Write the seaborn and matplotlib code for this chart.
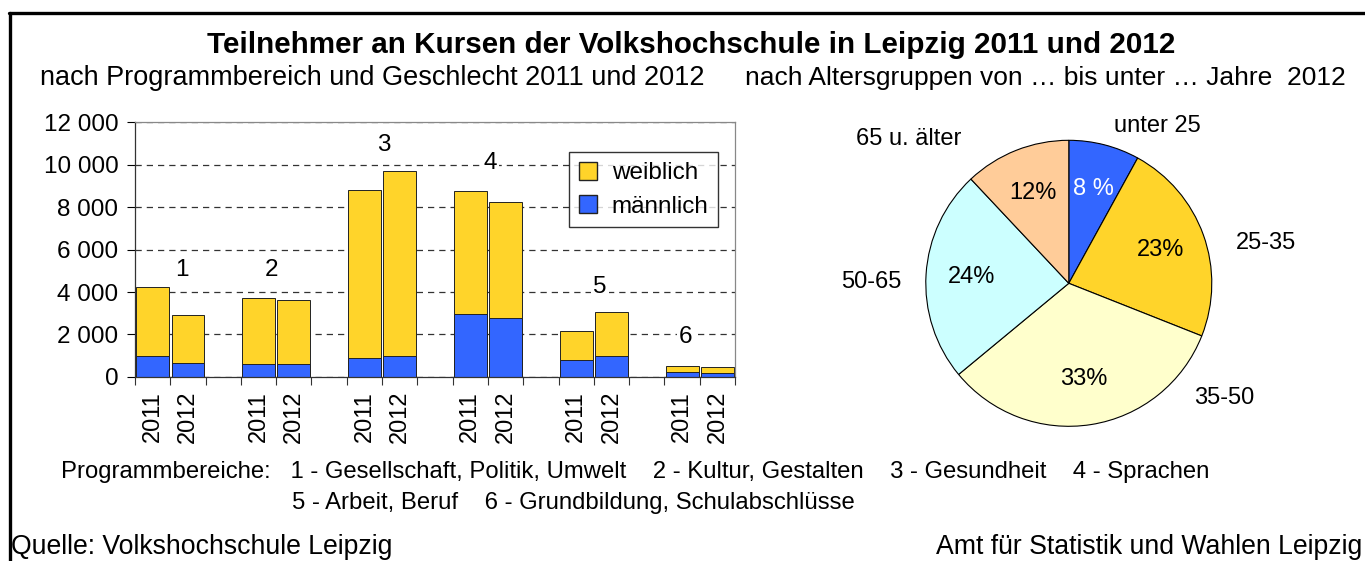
import numpy as np
import pandas as pd
import matplotlib
matplotlib.use("Agg")
import matplotlib.pyplot as plt
from matplotlib.patches import Patch
from matplotlib.lines import Line2D
from matplotlib.ticker import FuncFormatter, FixedLocator
import seaborn as sns

# -------------------------------------------------
# Data
# -------------------------------------------------
programs = ["1", "2", "3", "4", "5", "6"]
years = ["2011", "2012"]
total_2011 = [4240, 3700, 8820, 8750, 2180, 520]
total_2012 = [2920, 3640, 9690, 8240, 3060, 470]
male_2011 = [1000, 610, 910, 2960, 800, 240]
male_2012 = [670, 610, 1000, 2760, 970, 200]

age_groups = ["unter 25", "25-35", "35-50", "50-65", "65 u. älter"]
age_shares = [8, 23, 33, 24, 12]
age_pct_labels = ["8 %", "23%", "33%", "24%", "12%"]

YELLOW = "#FFD42A"
BLUE = "#3366FF"
pie_colors = [BLUE, YELLOW, "#FFFFCC", "#CCFFFF", "#FFCC99"]

sns.set_theme(style="white")
plt.rcParams["font.family"] = ["Liberation Sans", "DejaVu Sans"]
plt.rcParams["text.color"] = "black"
plt.rcParams["xtick.color"] = "black"
plt.rcParams["ytick.color"] = "black"

# -------------------------------------------------
# Build slot table (2 bars per program + empty gap slot)
# -------------------------------------------------
rows = []
order = []
tick_labels = []
for i, p in enumerate(programs):
    for y, tot, male in ((years[0], total_2011[i], male_2011[i]),
                         (years[1], total_2012[i], male_2012[i])):
        slot = f"{p}-{y}"
        rows.append({"slot": slot, "gesamt": tot, "maennlich": male})
        order.append(slot)
        tick_labels.append(y)
    if i < len(programs) - 1:
        order.append(f"gap{i}")
        tick_labels.append("")
df = pd.DataFrame(rows)

fig = plt.figure(figsize=(13.65, 5.61), dpi=100)

# -------------------------------------------------
# Bar chart
# -------------------------------------------------
ax = fig.add_axes([0.0989, 0.328, 0.4396, 0.4545])
ax.yaxis.grid(True, linestyle=(0, (5, 4)), color="#333333", linewidth=0.9)
ax.set_axisbelow(True)
sns.barplot(data=df, x="slot", y="gesamt", order=order, color=YELLOW,
            width=0.93, edgecolor="#222222", linewidth=0.7, saturation=1, ax=ax)
sns.barplot(data=df, x="slot", y="maennlich", order=order, color=BLUE,
            width=0.93, edgecolor="#222222", linewidth=0.7, saturation=1, ax=ax)

ax.set_xlim(-0.5, len(order) - 0.5)
ax.set_ylim(0, 12000)
ax.set_yticks(np.arange(0, 12001, 2000))
ax.yaxis.set_major_formatter(FuncFormatter(lambda v, _: f"{int(v):,}".replace(",", " ")))
ax.set_xticks(range(len(order)))
ax.set_xticklabels(tick_labels, rotation=90, fontsize=17)
ax.xaxis.set_minor_locator(FixedLocator(np.arange(-0.5, len(order), 1.0)))
ax.tick_params(axis="x", which="major", length=0, pad=10)
ax.tick_params(axis="x", which="minor", length=6, width=0.8, color="#333333", direction="out", bottom=True)
ax.tick_params(axis="y", length=6, width=0.8, direction="out", left=True, labelsize=17.5, pad=6)
ax.set_xlabel("")
ax.set_ylabel("")
for side in ("top", "right"):
    ax.spines[side].set_color("#888888")
    ax.spines[side].set_linewidth(0.9)
for side in ("left", "bottom"):
    ax.spines[side].set_color("#333333")
    ax.spines[side].set_linewidth(0.9)

# program numbers above the groups
label_x = [0.83, 3.38, 6.55, 9.56, 12.67, 15.1]
label_y = [5050, 5050, 10930, 10070, 4240, 1880]
for p, lx, ly in zip(programs, label_x, label_y):
    ax.text(lx, ly, p, ha="center", va="center", fontsize=17.5,
            bbox=dict(facecolor="white", edgecolor="none", pad=1.5))

handles = [Patch(facecolor=YELLOW, edgecolor="#222222", label="weiblich"),
           Patch(facecolor=BLUE, edgecolor="#222222", label="männlich")]
leg = ax.legend(handles=handles, loc="upper right", bbox_to_anchor=(0.972, 0.882),
                borderaxespad=0, fontsize=17.5, frameon=True, fancybox=False,
                edgecolor="black", handlelength=0.75, handleheight=0.75,
                handletextpad=0.6, borderpad=0.4, labelspacing=0.45)
leg.get_frame().set_linewidth(1.0)

# -------------------------------------------------
# Pie chart
# -------------------------------------------------
pax = fig.add_axes([0.676, 0.235, 0.214, 0.520])
pct_iter = iter(age_pct_labels)
wedges, _, autotexts = pax.pie(age_shares, colors=pie_colors, startangle=90, counterclock=False,
                               autopct=lambda v: next(pct_iter), pctdistance=0.68,
                               wedgeprops=dict(edgecolor="black", linewidth=0.8),
                               textprops=dict(fontsize=17))
autotexts[0].set_color("white")
pax.set_xlim(-1.02, 1.02)
pax.set_ylim(-1.02, 1.02)

outer_pos = [(0.62, 1.10), (1.38, 0.28), (1.09, -0.80), (-1.38, 0.01), (-1.12, 1.01)]
for name, (tx, ty) in zip(age_groups, outer_pos):
    pax.text(tx, ty, name, ha="center", va="center", fontsize=17, clip_on=False)

# -------------------------------------------------
# Texts
# -------------------------------------------------
fig.text(0.506, 0.92, "Teilnehmer an Kursen der Volkshochschule in Leipzig 2011 und 2012",
         ha="center", va="center", fontsize=21.3, fontweight="bold")
fig.text(0.029, 0.861, "nach Programmbereich und Geschlecht 2011 und 2012",
         ha="left", va="center", fontsize=19.5)
fig.text(0.546, 0.861, "nach Altersgruppen von … bis unter … Jahre  2012",
         ha="left", va="center", fontsize=19)
fig.text(0.045, 0.159,
         "Programmbereiche:   1 - Gesellschaft, Politik, Umwelt    2 - Kultur, Gestalten    3 - Gesundheit    4 - Sprachen",
         ha="left", va="center", fontsize=17.2)
fig.text(0.214, 0.104, "5 - Arbeit, Beruf    6 - Grundbildung, Schulabschlüsse",
         ha="left", va="center", fontsize=17.2)
fig.text(0.008, 0.025, "Quelle: Volkshochschule Leipzig", ha="left", va="center", fontsize=19.2)
fig.text(0.998, 0.025, "Amt für Statistik und Wahlen Leipzig", ha="right", va="center", fontsize=19.2)

# frame lines
fig.add_artist(Line2D([0.0066, 1.0], [0.977, 0.977], color="black", linewidth=2.4))
fig.add_artist(Line2D([0.0073, 0.0073], [0.0, 0.977], color="black", linewidth=2.4))

fig.savefig("out.png", dpi=100)
